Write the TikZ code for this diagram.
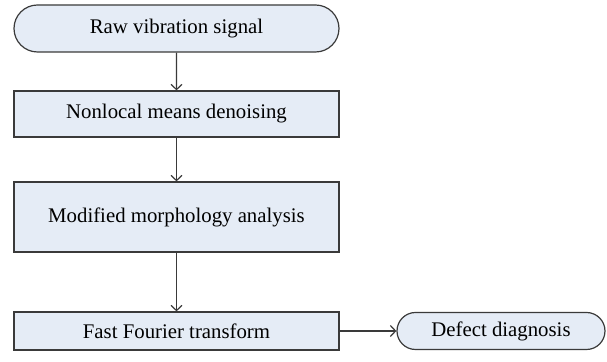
\documentclass[tikz,border=0pt]{standalone}
\usepackage{fontspec}
\setmainfont{Liberation Serif}
\usetikzlibrary{shapes.misc,arrows.meta}

\begin{document}
\begin{tikzpicture}[x=0.5pt, y=-0.5pt,
    stepbox/.style={draw=LineGray, fill=BoxBlue, line width=0.6pt, minimum width=162.5pt, inner sep=0pt, font=\fontsize{10.4}{12}\selectfont},
    endbox/.style={stepbox, rounded rectangle},
    flow/.style={LineGray, line width=0.6pt, -{Straight Barb[length=2.6pt,width=5.5pt]}}]
\definecolor{LineGray}{HTML}{3A3A3A};
\definecolor{BoxBlue}{HTML}{E5ECF6};

\useasboundingbox (0, 0) rectangle (607, 362);

% flow boxes
\node[endbox, minimum height=23.5pt] (raw) at (176.5, 28.5) {Raw vibration signal};
\node[stepbox, minimum height=23pt] (denoise) at (176.5, 114) {Nonlocal means denoising};
\node[stepbox, minimum height=35pt] (morph) at (176.5, 217) {Modified morphology analysis};
\node[stepbox, minimum height=19pt] (fft) at (176.5, 331) {Fast Fourier transform};
\node[endbox, minimum width=104pt, minimum height=18.5pt] (defect) at (501, 331) {Defect diagnosis};

% arrows
\draw[flow] (raw) -- (denoise);
\draw[flow] (denoise) -- (morph);
\draw[flow] (morph) -- (fft);
\draw[flow] (fft) -- (defect);
\end{tikzpicture}
\end{document}
